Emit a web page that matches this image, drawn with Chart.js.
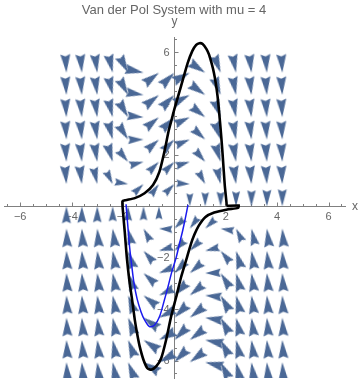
<!DOCTYPE html>
<html>
<head>
<meta charset="utf-8">
<script src="https://cdn.jsdelivr.net/npm/chart.js@4.4.1/dist/chart.umd.min.js"></script>
<style>
  html, body { margin: 0; padding: 0; background: #fff; }
  #wrap { width: 360px; height: 382px; }
</style>
</head>
<body>
<div id="wrap"><canvas id="vdp" width="360" height="382"></canvas></div>
<script>
// vector field sample points (arrow tips sit on these)
const gridX = [-4.2, -3.6, -3.0, -2.4, -1.8, -1.2, -0.6, 0, 0.6, 1.2, 1.8, 2.4, 3.0, 3.6, 4.2];
const gridY = [5.2, 4.333, 3.467, 2.6, 1.733, 0.867, 0, -0.867, -1.733, -2.6, -3.467, -4.333, -5.2, -6.067];

// y' at each grid point, one row per gridY entry (x' is just y)
const fieldVy = [
  [-82.33, -58.59, -38.6, -22.35, -9.85, -1.09, 3.93, 5.2, 2.73, -3.49, -13.45, -27.15, -44.6, -65.79, -90.73],
  [-67.91, -48.23, -31.67, -18.23, -7.91, -0.71, 3.37, 4.33, 2.17, -3.11, -11.51, -23.03, -37.67, -55.43, -76.31],
  [-53.49, -37.86, -24.73, -14.1, -5.97, -0.33, 2.82, 3.47, 1.62, -2.73, -9.57, -18.9, -30.73, -45.06, -61.89],
  [-39.06, -27.5, -17.8, -9.98, -4.02, 0.06, 2.26, 2.6, 1.06, -2.34, -7.62, -14.78, -23.8, -34.7, -47.46],
  [-24.64, -17.13, -10.87, -5.85, -2.08, 0.44, 1.71, 1.73, 0.51, -1.96, -5.68, -10.65, -16.87, -24.33, -33.04],
  [-10.22, -6.77, -3.93, -1.73, -0.14, 0.82, 1.16, 0.87, -0.05, -1.58, -3.74, -6.53, -9.93, -13.97, -18.62],
  [4.2, 3.6, 3.0, 2.4, 1.8, 1.2, 0.6, 0, -0.6, -1.2, -1.8, -2.4, -3.0, -3.6, -4.2],
  [18.62, 13.97, 9.93, 6.53, 3.74, 1.58, 0.05, -0.87, -1.16, -0.82, 0.14, 1.73, 3.93, 6.77, 10.22],
  [33.04, 24.33, 16.87, 10.65, 5.68, 1.96, -0.51, -1.73, -1.71, -0.44, 2.08, 5.85, 10.87, 17.13, 24.64],
  [47.46, 34.7, 23.8, 14.78, 7.62, 2.34, -1.06, -2.6, -2.26, -0.06, 4.02, 9.98, 17.8, 27.5, 39.06],
  [61.89, 45.06, 30.73, 18.9, 9.57, 2.73, -1.62, -3.47, -2.82, 0.33, 5.97, 14.1, 24.73, 37.86, 53.49],
  [76.31, 55.43, 37.67, 23.03, 11.51, 3.11, -2.17, -4.33, -3.37, 0.71, 7.91, 18.23, 31.67, 48.23, 67.91],
  [90.73, 65.79, 44.6, 27.15, 13.45, 3.49, -2.73, -5.2, -3.93, 1.09, 9.85, 22.35, 38.6, 58.59, 82.33],
  [105.15, 76.16, 51.53, 31.28, 15.39, 3.87, -3.28, -6.07, -4.48, 1.47, 11.79, 26.48, 45.53, 68.96, 96.75]
];

// black closed orbit
const cycleX = [2.03, 2.5, 2.48, 2.06, 1.55, 1.2, 0.95, 0.78, 0.64, 0.45, 0.26, 0.07, -0.13, -0.32, -0.51, -0.7, -0.9, -1.05, -1.2, -1.35, -1.45, -1.54, -1.65, -1.75, -1.85, -1.93, -1.99, -2.02, -1.9, -1.54, -1.16, -0.83, -0.58, -0.39, -0.22, -0.1, 0.0, 0.26, 0.52, 0.7, 0.85, 0.97, 1.1, 1.25, 1.35, 1.54, 1.68, 1.8, 1.87, 1.96, 2.03, 2.03];
const cycleY = [0.02, 0.03, -0.06, -0.12, -0.24, -0.42, -0.75, -1.1, -1.48, -2.12, -2.76, -3.53, -4.3, -5.19, -5.9, -6.22, -6.36, -6.3, -5.98, -5.45, -4.95, -4.42, -3.6, -2.9, -2.0, -1.0, -0.32, 0.2, 0.24, 0.32, 0.51, 0.83, 1.35, 2.12, 2.95, 3.4, 3.78, 4.68, 5.58, 6.05, 6.28, 6.35, 6.32, 6.12, 5.9, 5.19, 4.29, 3.01, 2.12, 0.83, 0.13, 0.02];

// blue trajectory
const pathX = [-1.88, -1.85, -1.8, -1.74, -1.66, -1.57, -1.45, -1.3, -1.16, -0.97, -0.77, -0.58, -0.39, -0.25, -0.1, 0.07, 0.2, 0.32, 0.43, 0.53];
const pathY = [0.08, -0.3, -0.9, -1.6, -2.3, -3.0, -3.6, -4.1, -4.42, -4.68, -4.62, -4.3, -3.65, -3.14, -2.55, -1.99, -1.45, -0.96, -0.45, 0.06];

const xTicks = [-6, -4, -2, 2, 4, 6];
const yTicks = [-6, -4, -2, 2, 4, 6];

const arrowColor = '#4a6896';
const axisColor = '#808080';
const textColor = '#666666';
const font = '"Liberation Sans", Arial, sans-serif';

const arrowCache = {};
function arrowImage(len) {
  const L = Math.round(len * 2) / 2;
  if (arrowCache[L]) return arrowCache[L];
  const size = Math.ceil(L) * 2 + 4;
  const cv = document.createElement('canvas');
  cv.width = size;
  cv.height = size;
  const g = cv.getContext('2d');
  const c = size / 2;
  const w = L * 0.27;
  g.fillStyle = arrowColor;
  g.beginPath();
  g.moveTo(c, c);
  g.lineTo(c - L, c - w);
  g.lineTo(c - L * 0.88, c);
  g.lineTo(c - L, c + w);
  g.closePath();
  g.fill();
  arrowCache[L] = cv;
  return cv;
}

function arrowLength(p) {
  return Math.min(18.5, 12.5 + 1.1 * Math.hypot(p.vx, p.vy));
}

const arrows = [];
gridY.forEach((y, r) => {
  gridX.forEach((x, c) => {
    const vy = fieldVy[r][c];
    if (y === 0 && vy === 0) return;
    arrows.push({x: x, y: y, vx: y, vy: vy});
  });
});

const toPoints = (xs, ys) => xs.map((x, i) => ({x: x, y: ys[i]}));

function fmt(v) {
  return v < 0 ? '\u2212' + (-v) : String(v);
}

const decor = {
  id: 'decor',
  beforeDatasetsDraw(chart) {
    const {ctx, scales: {x, y}} = chart;
    const ax = Math.round(x.getPixelForValue(0)) + 0.5;
    const ay = Math.round(y.getPixelForValue(0)) + 0.5;
    ctx.save();
    ctx.strokeStyle = axisColor;
    ctx.lineWidth = 1;
    ctx.beginPath();
    for (let v = -6.5; v <= 6.5; v += 0.5) {
      if (v === 0) continue;
      const len = (v % 2 === 0) ? 4 : 2.5;
      const px = Math.round(x.getPixelForValue(v)) + 0.5;
      ctx.moveTo(px, ay);
      ctx.lineTo(px, ay - len);
      const py = Math.round(y.getPixelForValue(v)) + 0.5;
      ctx.moveTo(ax, py);
      ctx.lineTo(ax + len, py);
    }
    ctx.stroke();

    ctx.fillStyle = textColor;
    ctx.font = '11px ' + font;
    ctx.textAlign = 'center';
    ctx.textBaseline = 'top';
    xTicks.forEach(v => ctx.fillText(fmt(v), x.getPixelForValue(v), ay + 5));
    ctx.textAlign = 'right';
    ctx.textBaseline = 'middle';
    yTicks.forEach(v => ctx.fillText(fmt(v), ax - 5, y.getPixelForValue(v) + 0.5));

    ctx.font = '12px ' + font;
    ctx.textAlign = 'left';
    ctx.textBaseline = 'middle';
    ctx.fillText('x', chart.chartArea.right + 7, ay);
    ctx.textAlign = 'center';
    ctx.textBaseline = 'alphabetic';
    ctx.fillText('y', ax, 25);

    ctx.font = '13px ' + font;
    ctx.fillText('Van der Pol System with mu = 4', 174, 13.5);
    ctx.restore();
  }
};

new Chart(document.getElementById('vdp'), {
  type: 'scatter',
  data: {
    datasets: [
      {
        label: 'cycle',
        data: toPoints(cycleX, cycleY),
        showLine: true,
        borderColor: '#000000',
        borderWidth: 2.6,
        pointRadius: 0,
        tension: 0.2,
        fill: false
      },
      {
        label: 'path',
        data: toPoints(pathX, pathY),
        showLine: true,
        borderColor: '#1a1aee',
        borderWidth: 1.5,
        pointRadius: 0,
        tension: 0.3,
        fill: false
      },
      {
        label: 'field',
        data: arrows,
        pointRadius: 1,
        pointStyle: ctx => ctx.raw ? arrowImage(arrowLength(ctx.raw)) : 'circle',
        rotation: ctx => ctx.raw ? -Math.atan2(ctx.raw.vy, ctx.raw.vx) * 180 / Math.PI : 0,
        backgroundColor: arrowColor,
        borderWidth: 0
      }
    ]
  },
  options: {
    responsive: false,
    animation: false,
    devicePixelRatio: 1,
    events: [],
    layout: { padding: { left: 2, right: 15, top: 37, bottom: 0 } },
    plugins: {
      legend: { display: false },
      title: { display: false },
      tooltip: { enabled: false }
    },
    scales: {
      x: {
        type: 'linear',
        min: -6.63,
        max: 6.64,
        position: { y: 0 },
        grid: { display: false },
        border: { display: true, color: axisColor, width: 1 },
        ticks: { display: false }
      },
      y: {
        type: 'linear',
        min: -6.68,
        max: 6.59,
        position: { x: 0 },
        grid: { display: false },
        border: { display: true, color: axisColor, width: 1 },
        ticks: { display: false }
      }
    }
  },
  plugins: [decor]
});
</script>
</body>
</html>
